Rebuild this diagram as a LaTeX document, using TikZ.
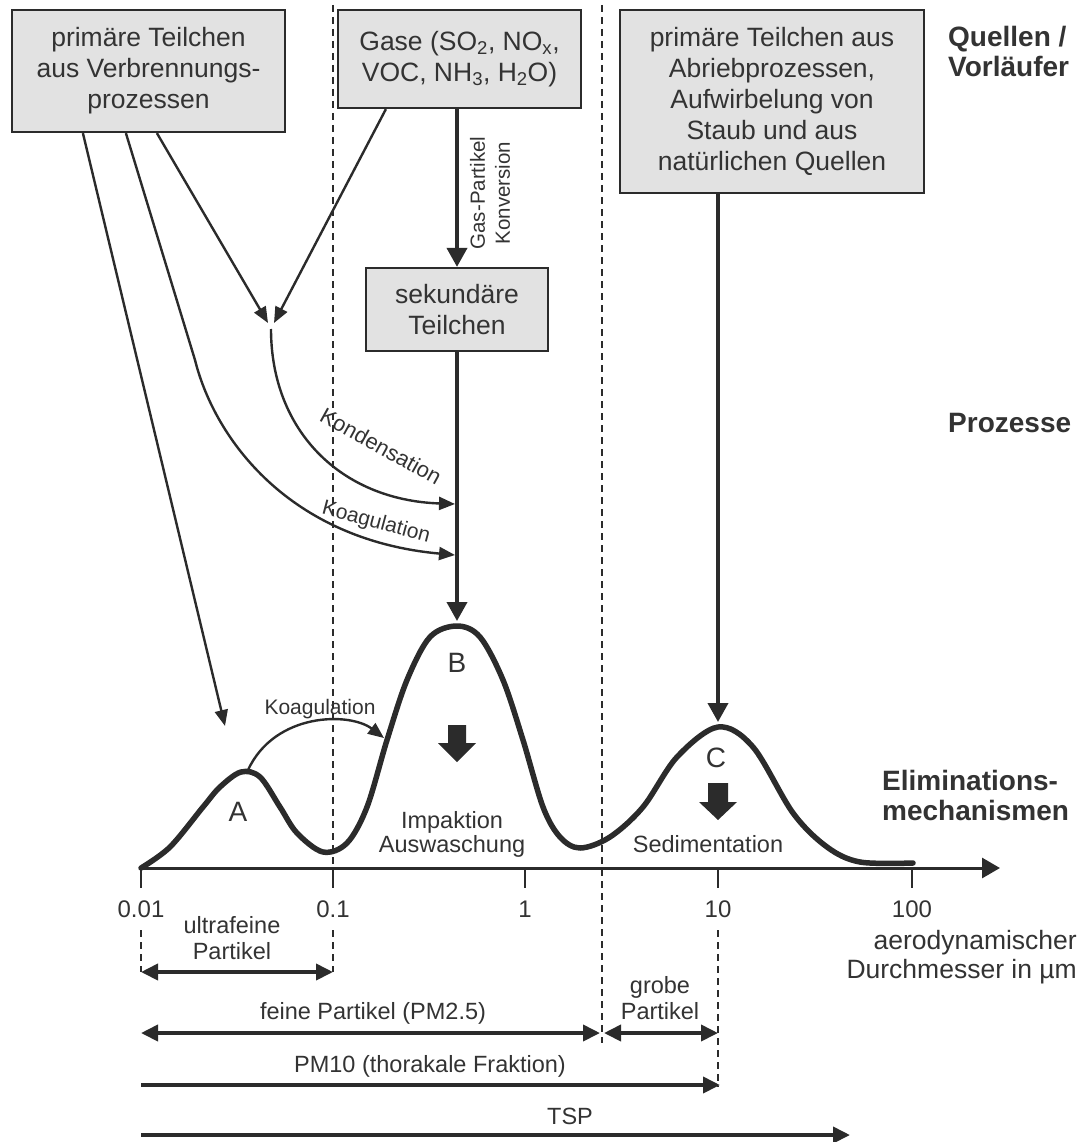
\documentclass[tikz,border=0pt]{standalone}
\usepackage{fontspec}
\setmainfont{Liberation Sans}
\usetikzlibrary{arrows.meta}
\definecolor{ink}{HTML}{2B2B2B}
\definecolor{txt}{HTML}{333333}
\definecolor{boxfill}{HTML}{E2E2E2}
\newcommand{\fsz}[2]{\fontsize{#1}{#2}\selectfont}
\begin{document}
\begin{tikzpicture}[x=1pt,y=-1pt,
  every node/.style={text=txt, inner sep=0pt},
  srcbox/.style={draw=ink, fill=boxfill, line width=2.2pt, align=center, font=\fsz{26.5}{31}},
  conn/.style={draw=ink, line width=2.4pt, -{Triangle[length=16pt,width=13pt]}},
  bigarrow/.style={draw=ink, line width=3.8pt, -{Triangle[length=19pt,width=20pt]}},
  dimboth/.style={draw=ink, line width=3.8pt, {Triangle[length=17pt,width=16pt]}-{Triangle[length=17pt,width=16pt]}},
  dimone/.style={draw=ink, line width=3.8pt, -{Triangle[length=17pt,width=16pt]}},
  dotline/.style={draw=ink, line width=2.5pt, dash pattern=on 7pt off 5pt},
  midlabel/.style={font=\fsz{23.5}{26}, align=center},
  smalllabel/.style={font=\fsz{21}{25}, align=center},
  sidelabel/.style={font=\bfseries\fsz{28}{30}, align=left, anchor=west},
  peaklabel/.style={font=\fsz{28}{30}},
  ticklabel/.style={font=\fsz{24}{26}}
]
\useasboundingbox (0,0) rectangle (1083,1142);

% dotted guide lines
\draw[dotline] (333,5) -- (333,868);
\draw[dotline] (333,930) -- (333,972);
\draw[dotline] (141,930) -- (141,972);
\draw[dotline] (602,5) -- (602,1043);
\draw[dotline] (718,930) -- (718,1087);

% source boxes
\node[srcbox, minimum width=273pt, minimum height=122pt] (prim) at (148.5,71)
  {primäre Teilchen\\aus Verbrennungs-\\prozessen};
\node[srcbox, minimum width=243pt, minimum height=98pt] (gase) at (459.5,59)
  {Gase (SO\textsubscript{2}, NO\textsubscript{x},\\VOC, NH\textsubscript{3}, H\textsubscript{2}O)};
\node[srcbox, minimum width=182pt, minimum height=83pt] (sek) at (457,309.5)
  {sekundäre\\Teilchen};
\node[srcbox, minimum width=304pt, minimum height=183pt] (rbox) at (772,101.5)
  {primäre Teilchen aus\\Abriebprozessen,\\Aufwirbelung von\\Staub und aus\\natürlichen Quellen};

% side labels
\node[sidelabel] (lquel) at (948,51) {Quellen /\\Vorläufer};
\node[sidelabel] (lproz) at (948,423) {Prozesse};
\node[sidelabel] (lelim) at (882,795) {Eliminations-\\mechanismen};

% key coordinates
\coordinate (tA) at (225,726);
\coordinate (jL) at (268,323);
\coordinate (jR) at (274,323);
\coordinate (jS) at (271,329);
\coordinate (kbend) at (195,360);
\coordinate (kond) at (455,504);
\coordinate (koag) at (455,555);
\coordinate (Bpk) at (457,621);
\coordinate (Cpk) at (718,722);
\coordinate (aA) at (248,770);
\coordinate (aB) at (384,738);

% connectors
\draw[conn] ([xshift=72pt]prim.south west) -- (tA);
\draw[conn] ([xshift=115pt]prim.south west) -- (kbend) .. controls (215,440) and (290,540) .. (koag);
\draw[conn] ([xshift=146pt]prim.south west) -- (jL);
\draw[conn] ([xshift=49pt]gase.south west) -- (jR);
\draw[conn] (jS) .. controls (271,430) and (340,500) .. (kond);
\draw[bigarrow] (gase.south -| sek.north) -- (sek.north);
\draw[bigarrow] (sek.south) -- (Bpk);
\draw[bigarrow] (rbox.south -| Cpk) -- (Cpk);
\draw[conn] (aA) .. controls (275,712) and (350,712) .. (aB);

% process labels
\node[font=\fsz{20.5}{25}, align=center, rotate=90] (lgas) at (490,193) {Gas-Partikel\\Konversion};
\node[font=\fsz{22}{25}, rotate=-29] (lkond) at (381,446) {Kondensation};
\node[smalllabel, rotate=-15] (lkoag1) at (376,523) {Koagulation};
\node[smalllabel] (lkoag2) at (320,709) {Koagulation};

% size distribution curve
\draw[ink, line width=5.5pt, line cap=round, line join=round]
  plot[smooth, tension=0.55] coordinates {
  (141,868) (170,847) (203,807) (220,787) (241,772) (260,777) (280,807) (297,833)
  (323,852) (347,843) (367,807) (387,740) (407,680) (430,637) (457,626) (480,637)
  (503,680) (523,740) (543,807) (560,837) (580,848) (610,837) (643,807) (677,757)
  (718,727) (753,747) (793,813) (827,847) (860,862) (913,863)};

% peak labels
\node[peaklabel] (pA) at (238,812) {A};
\node[peaklabel] (pB) at (457,663) {B};
\node[peaklabel] (pC) at (716,758) {C};

% block arrows
\fill[ink] (448,725) -- (466,725) -- (466,743) -- (476,743) -- (457,762) -- (438,743) -- (448,743) -- cycle;
\fill[ink] (708,783) -- (728,783) -- (728,802) -- (737,802) -- (718,820) -- (699,802) -- (708,802) -- cycle;

\node[midlabel, font=\fsz{23.5}{24}] (limp) at (452,834) {Impaktion\\Auswaschung};
\node[midlabel] (lsed) at (708,844) {Sedimentation};

% axis
\coordinate (ax0) at (141,868);
\coordinate (ax1) at (1000,868);
\draw[ink, line width=3pt, -{Triangle[length=18pt,width=20pt]}] (ax0) -- (ax1);
\foreach \x/\l/\n in {141/0.01/1, 333/0.1/2, 525/1/3, 718/10/4, 912/100/5} {
  \draw[ink, line width=2.4pt] (\x,868) -- (\x,888);
  \node[ticklabel] (tick\n) at (\x,909) {\l};
}
\node[font=\fsz{26.5}{29}, align=right, anchor=east] (laxis) at (1077,957) {aerodynamischer\\Durchmesser in µm};

% size class arrows
\coordinate (u0) at (141,972); \coordinate (u1) at (333,972);
\coordinate (f0) at (141,1033); \coordinate (f1) at (600,1033);
\coordinate (g0) at (604,1033); \coordinate (g1) at (718,1033);
\coordinate (p0) at (141,1085); \coordinate (p1) at (720,1085);
\coordinate (s0) at (141,1135); \coordinate (s1) at (850,1135);
\draw[dimboth] (u0) -- (u1);
\draw[dimboth] (f0) -- (f1);
\draw[dimboth] (g0) -- (g1);
\draw[dimone] (p0) -- (p1);
\draw[dimone] (s0) -- (s1);
\node[midlabel] (lultra) at (232,938) {ultrafeine\\Partikel};
\node[midlabel] (lfein) at (373,1013) {feine Partikel (PM2.5)};
\node[midlabel] (lgrob) at (660,998) {grobe\\Partikel};
\node[midlabel] (lpm10) at (430,1066) {PM10 (thorakale Fraktion)};
\node[midlabel] (ltsp) at (570,1116) {TSP};
\end{tikzpicture}
\end{document}
